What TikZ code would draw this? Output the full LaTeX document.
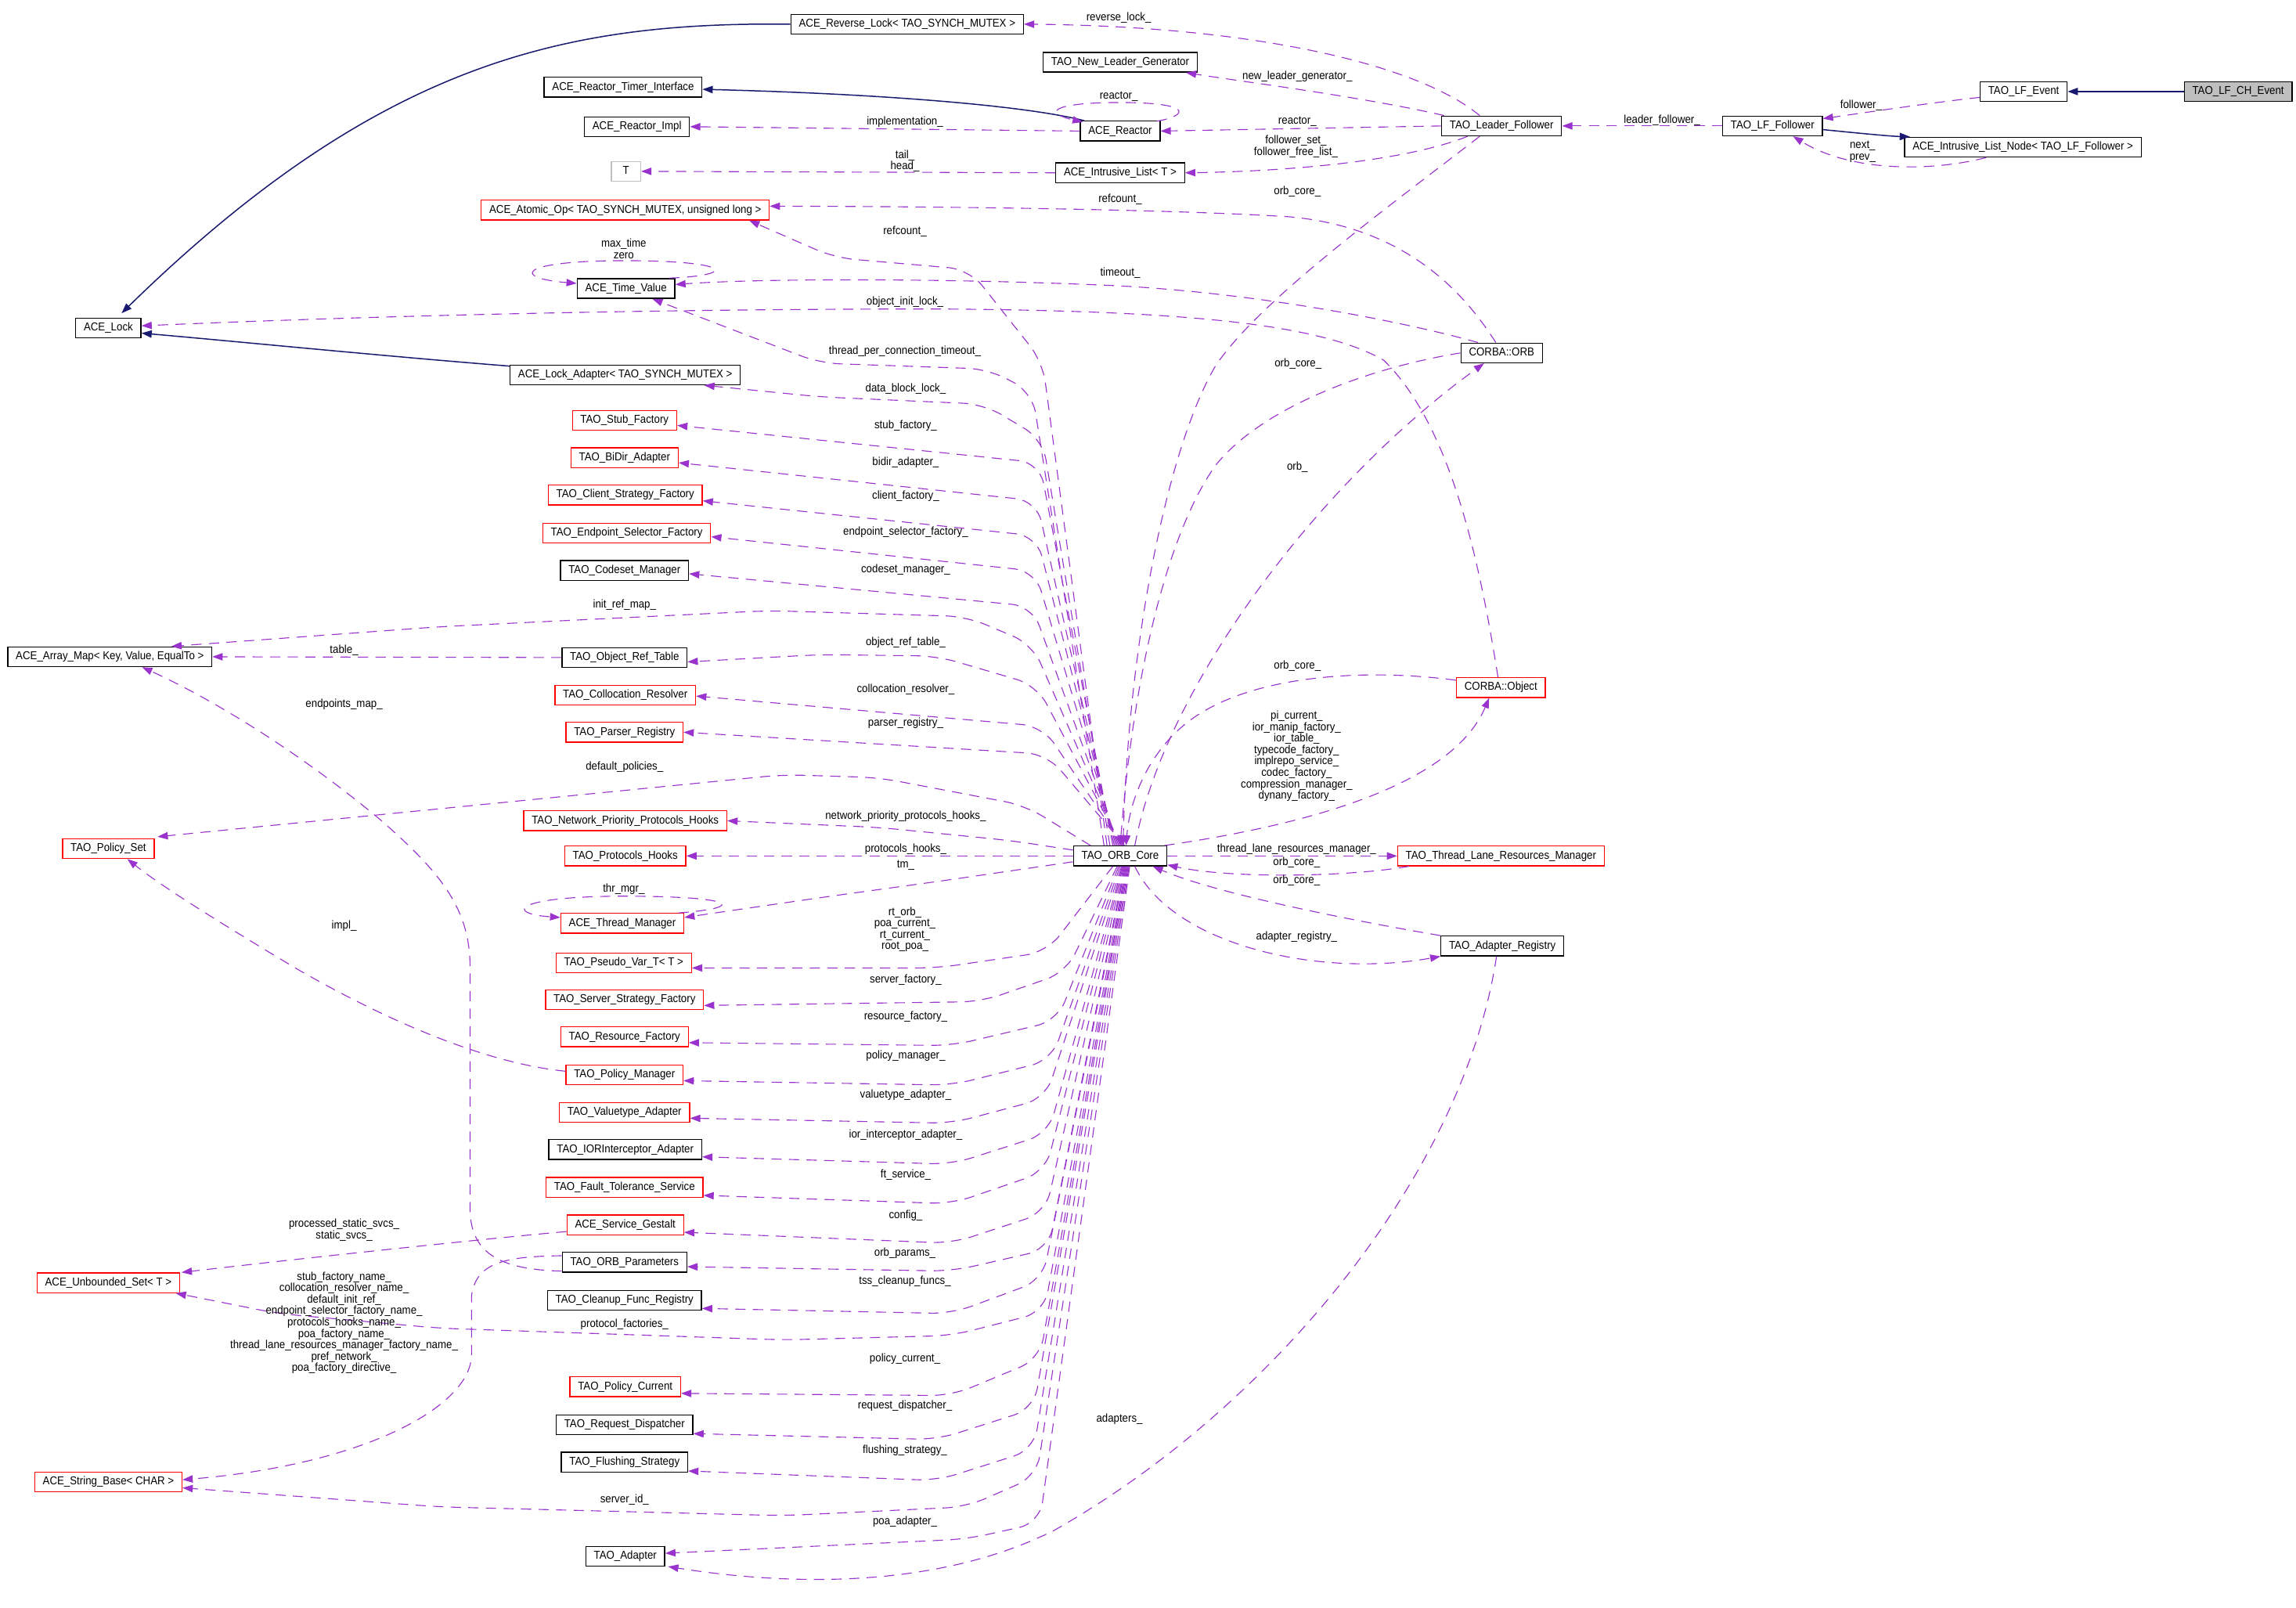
\documentclass[tikz,border=0pt]{standalone}
\usepackage{fontspec}
\setmainfont{Liberation Sans}[FakeStretch=0.91]
\usetikzlibrary{arrows.meta,calc}
\definecolor{edgepurple}{HTML}{9A32CD}
\definecolor{navyline}{HTML}{191970}
\definecolor{nodegray}{HTML}{BFBFBF}
\newcommand\graphfont{\fontsize{7.8}{7.8}\selectfont}
\tikzset{
  cbox/.style={draw=black, fill=white, line width=0.7pt, minimum height=13.5pt, inner xsep=5.5pt, inner ysep=0pt, text height=5.6pt, text depth=1.6pt, font=\graphfont},
  rbox/.style={cbox, draw=red},
  assoc/.style={draw=edgepurple, line width=0.6pt, dash pattern=on 7pt off 5pt, -{Triangle[length=7pt,width=5pt]}},
  fanline/.style={assoc, rounded corners=14pt},
  inhe/.style={draw=navyline, line width=0.8pt, -{Triangle[length=7pt,width=5pt]}},
  lbl/.style={font=\graphfont, inner sep=0pt, align=center},
}
\begin{document}
\begin{tikzpicture}[x=1pt,y=-1pt]
\useasboundingbox (0,0) rectangle (1568,1097.6);
\fill[white] (0,0) rectangle (1568,1097.6);

% ---------- nodes ----------
\node[cbox] (revlock) at (619.5,16.5) {ACE\_Reverse\_Lock< TAO\_SYNCH\_MUTEX >};
\node[cbox] (newleader) at (765,42.5) {TAO\_New\_Leader\_Generator};
\node[cbox] (timerif) at (425.5,59.5) {ACE\_Reactor\_Timer\_Interface};
\node[cbox] (reactorimpl) at (435,86.5) {ACE\_Reactor\_Impl};
\node[cbox] (reactor) at (765,89.5) {ACE\_Reactor};
\node[cbox] (leaderfollower) at (1025.5,86) {TAO\_Leader\_Follower};
\node[cbox] (lffollower) at (1210.5,86) {TAO\_LF\_Follower};
\node[cbox] (lfevent) at (1382,62.5) {TAO\_LF\_Event};
\node[cbox, fill=nodegray] (lfchevent) at (1528.5,62.5) {TAO\_LF\_CH\_Event};
\node[cbox] (listnode) at (1381.5,100.5) {ACE\_Intrusive\_List\_Node< TAO\_LF\_Follower >};
\node[cbox, draw=nodegray, minimum width=20pt] (tparam) at (427.5,117) {T};
\node[cbox] (intrusivelist) at (765,118) {ACE\_Intrusive\_List< T >};
\node[rbox] (atomic) at (427,143.5) {ACE\_Atomic\_Op< TAO\_SYNCH\_MUTEX, unsigned long >};
\node[cbox] (timevalue) at (427.5,197) {ACE\_Time\_Value};
\node[cbox] (acelock) at (74,224) {ACE\_Lock};
\node[cbox] (lockadapter) at (427,256) {ACE\_Lock\_Adapter< TAO\_SYNCH\_MUTEX >};
\node[cbox] (orb) at (1025.5,241) {CORBA::ORB};
\node[rbox] (stubfactory) at (426.5,287) {TAO\_Stub\_Factory};
\node[rbox] (bidir) at (426.5,312.5) {TAO\_BiDir\_Adapter};
\node[rbox] (clientstrat) at (427,338) {TAO\_Client\_Strategy\_Factory};
\node[rbox] (endpointsel) at (428,364) {TAO\_Endpoint\_Selector\_Factory};
\node[cbox] (codeset) at (426.5,389.5) {TAO\_Codeset\_Manager};
\node[cbox] (arraymap) at (75,448.5) {ACE\_Array\_Map< Key, Value, EqualTo >};
\node[cbox] (objreftable) at (426.5,449) {TAO\_Object\_Ref\_Table};
\node[rbox] (colloc) at (427,474.8) {TAO\_Collocation\_Resolver};
\node[rbox] (corbaobject) at (1025,469.5) {CORBA::Object};
\node[rbox] (parser) at (426.5,500) {TAO\_Parser\_Registry};
\node[rbox] (netprio) at (427,560.5) {TAO\_Network\_Priority\_Protocols\_Hooks};
\node[rbox] (policyset) at (74,579.5) {TAO\_Policy\_Set};
\node[rbox] (protohooks) at (427,584.5) {TAO\_Protocols\_Hooks};
\node[cbox] (orbcore) at (765,584.5) {TAO\_ORB\_Core};
\node[rbox] (tlrm) at (1025,584.5) {TAO\_Thread\_Lane\_Resources\_Manager};
\node[rbox] (thrmgr) at (425,630.5) {ACE\_Thread\_Manager};
\node[cbox] (adapterreg) at (1026,646) {TAO\_Adapter\_Registry};
\node[rbox] (pseudovar) at (426,657.5) {TAO\_Pseudo\_Var\_T< T >};
\node[rbox] (serverstrat) at (426.5,682.6) {TAO\_Server\_Strategy\_Factory};
\node[rbox] (resfactory) at (426.5,708) {TAO\_Resource\_Factory};
\node[rbox] (policymgr) at (426.5,734) {TAO\_Policy\_Manager};
\node[rbox] (valuetype) at (426.5,759.6) {TAO\_Valuetype\_Adapter};
\node[cbox] (iorinterceptor) at (427,785) {TAO\_IORInterceptor\_Adapter};
\node[rbox] (faulttol) at (426.5,810.8) {TAO\_Fault\_Tolerance\_Service};
\node[rbox] (servicegestalt) at (427,836.5) {ACE\_Service\_Gestalt};
\node[cbox] (orbparams) at (426.5,862) {TAO\_ORB\_Parameters};
\node[rbox] (unboundedset) at (74,876) {ACE\_Unbounded\_Set< T >};
\node[cbox] (cleanup) at (426.5,888) {TAO\_Cleanup\_Func\_Registry};
\node[rbox] (policycurrent) at (427,947) {TAO\_Policy\_Current};
\node[cbox] (requestdisp) at (426.5,973) {TAO\_Request\_Dispatcher};
\node[cbox] (flushing) at (426.5,998.5) {TAO\_Flushing\_Strategy};
\node[rbox] (stringbase) at (74,1012) {ACE\_String\_Base< CHAR >};
\node[cbox] (taoadapter) at (427,1062.7) {TAO\_Adapter};

% ---------- inheritance ----------
\draw[inhe] (revlock.west) .. controls (389,15) and (261,40) .. ($(acelock.north)+(9,-3)$);
\draw[inhe] ($(reactor.north west)+(3,0)$) .. controls (700,72) and (600,64) .. ($(timerif.east)+(0,1.5)$);
\draw[inhe] ($(lockadapter.west)+(0,-6)$) .. controls (260,243) and (160,233) .. ($(acelock.east)+(0,3.5)$);
\draw[inhe] (lfchevent.west) -- (lfevent.east);
\draw[inhe] ($(lffollower.east)+(0,2.5)$) .. controls (1270,91) and (1290,93) .. ($(listnode.north west)+(4,0)$);

% ---------- top right associations ----------
\draw[assoc] ($(leaderfollower.north)+(-15,0)$) .. controls (970,45) and (860,18) .. (revlock.east);
\draw[assoc] ($(leaderfollower.north west)+(2,0)$) .. controls (930,66) and (850,56) .. ($(newleader.south east)+(-8,0)$);
\draw[assoc] (leaderfollower.west) -- (reactor.east);
\draw[assoc] (790,82.75) .. controls (812,79) and (815,70) .. (765,70) .. controls (718,70) and (712,77) .. ($(reactor.north west)+(2,1)$);
\draw[assoc] (reactor.west) -- (reactorimpl.east);
\draw[assoc] ($(leaderfollower.south west)+(18,0)$) .. controls (960,110) and (880,117) .. (intrusivelist.east);
\draw[assoc] (intrusivelist.west) -- (tparam.east);
\draw[assoc] (lffollower.west) -- (leaderfollower.east);
\draw[assoc] ($(lfevent.west)+(0,4)$) .. controls (1320,70) and (1280,76) .. ($(lffollower.east)+(0,-5)$);
\draw[assoc] ($(listnode.south west)+(56,0)$) .. controls (1320,117) and (1265,118) .. ($(lffollower.south)+(14,0)$);

% ---------- CORBA::ORB / CORBA::Object ----------
\draw[assoc] ($(orb.north)+(-4,0)$) .. controls (1000,200) and (960,155) .. (880,148) .. controls (800,143) and (650,141) .. ($(atomic.east)+(0,-2.7)$);
\draw[assoc] ($(orb.north west)+(12,0)$) .. controls (960,220) and (860,200) .. (760,195) .. controls (650,190) and (520,190) .. ($(timevalue.east)+(0,-2.7)$);
\draw[assoc] ($(timevalue.north east)+(-4,0)$) .. controls (505,188) and (500,178) .. (427,178) .. controls (352,178) and (350,190) .. ($(timevalue.west)+(0,-3.5)$);
\draw[assoc] ($(corbaobject.north)+(-2,0)$) .. controls (1010,380) and (990,290) .. (945,246) .. controls (900,220) and (800,212) .. (640,211) .. controls (400,211) and (200,218) .. ($(acelock.east)+(0,-1.5)$);
\draw[assoc] ($(leaderfollower.south)+(-15,0)$) .. controls (950,140) and (860,205) .. (830,250) .. controls (795,310) and (770,450) .. ($(orbcore.north)+(2,0)$);
\draw[assoc] (orb.west) .. controls (930,252) and (860,280) .. (830,318) .. controls (800,360) and (775,450) .. ($(orbcore.north)+(0,0)$);
\draw[assoc] ($(orbcore.north)+(10,0)$) .. controls (795,470) and (900,330) .. ($(orb.south)+(-12,0)$);
\draw[assoc] ($(orbcore.north east)+(-2,0)$) .. controls (880,565) and (990,540) .. ($(corbaobject.south)+(-8,0)$);
\draw[assoc] ($(corbaobject.west)+(0,-5)$) .. controls (930,456) and (860,462) .. (820,487) .. controls (790,505) and (772,540) .. ($(orbcore.north)+(4,0)$);

% ---------- right of ORB core ----------
\draw[assoc] (orbcore.east) -- (tlrm.west);
\draw[assoc] ($(tlrm.south west)+(8,0)$) .. controls (920,599) and (840,600) .. ($(orbcore.south east)+(0,-1)$);
\draw[assoc] (adapterreg.north west) .. controls (920,628) and (830,610) .. ($(orbcore.south east)+(-10,0)$);
\draw[assoc] ($(orbcore.south)+(10,0)$) .. controls (800,645) and (900,668) .. (adapterreg.south west);
\draw[assoc] ($(adapterreg.south)+(-4,0)$) .. controls (1000,800) and (870,960) .. (720,1045) .. controls (640,1085) and (540,1083) .. ($(taoadapter.south east)+(2,0)$);

% ---------- fan upwards ----------
\draw[fanline] ($(orbcore.north)+(-9,0)$) -- (712,247) -- (662,184) -- (570,176) -- ($(atomic.south east)+(-14,0)$);
\draw[fanline] ($(orbcore.north)+(-11,0)$) -- (705,268) -- (675,252) -- (560,248) -- ($(timevalue.south)+(18,0)$);
\draw[fanline] ($(orbcore.north)+(-7,0)$) -- (712,300) -- (672,276) -- (560,271) -- ($(lockadapter.south east)+(-25,0)$);
\draw[fanline] ($(orbcore.north)+(-5,0)$) -- (710,316) -- ($(stubfactory.east)+(0,3.5)$);
\draw[fanline] ($(orbcore.north)+(-4,0)$) -- (708,342) -- ($(bidir.east)+(0,3.5)$);
\draw[fanline] ($(orbcore.north)+(-3,0)$) -- (708,366) -- ($(clientstrat.east)+(0,4)$);
\draw[fanline] ($(orbcore.north)+(-2,0)$) -- (707,390) -- ($(endpointsel.east)+(0,2.5)$);
\draw[fanline] ($(orbcore.north)+(-1,0)$) -- (705,414) -- ($(codeset.east)+(0,2.3)$);
\draw[fanline] ($(orbcore.north)+(0,0)$) -- (705,440) -- (660,421) -- (525,417) -- (300,428) -- ($(arraymap.north east)+(-28,0)$);
\draw[fanline] ($(orbcore.north)+(1,0)$) -- (708,468) -- (640,448) -- (560,447) -- ($(objreftable.east)+(0,3)$);
\draw[fanline] ($(orbcore.north)+(2,0)$) -- (712,496) -- ($(colloc.east)+(0,0.5)$);
\draw[fanline] ($(orbcore.north)+(3,0)$) -- (715,515) -- (parser.east);
\draw[fanline] ($(orbcore.north west)+(12,0)$) -- (700,550) -- (600,531) -- (535,529) -- ($(policyset.north east)+(2,-1)$);
\draw[fanline] ($(orbcore.west)+(0,-4)$) -- (690,574) -- (600,565) -- (netprio.east);
\draw[assoc] (orbcore.west) -- (protohooks.east);
\draw[fanline] ($(orbcore.west)+(0,4)$) -- (647,601) -- (560,613) -- ($(thrmgr.east)+(0,-4)$);
\draw[assoc] ($(thrmgr.north east)+(-4,0)$) .. controls (510,620) and (505,612) .. (426,612) .. controls (350,612) and (345,624) .. ($(thrmgr.west)+(0,-4)$);

% ---------- fan downwards ----------
\draw[fanline] ($(orbcore.south)+(-5,0)$) -- (715,650) -- (640,661) -- ($(pseudovar.east)+(0,3.5)$);
\draw[fanline] ($(orbcore.south)+(-2,0)$) -- (728,664) -- (670,684) -- ($(serverstrat.east)+(0,4)$);
\draw[fanline] ($(orbcore.south)+(-1,0)$) -- (722,697) -- (650,714) -- ($(resfactory.east)+(0,4)$);
\draw[fanline] ($(orbcore.south)+(0,0)$) -- (718,724) -- (650,741) -- ($(policymgr.east)+(0,4)$);
\draw[fanline] ($(orbcore.south)+(1,0)$) -- (714,750) -- (650,767) -- ($(valuetype.east)+(0,4)$);
\draw[fanline] ($(orbcore.south)+(1.5,0)$) -- (716,774) -- (650,795) -- ($(iorinterceptor.east)+(0,5)$);
\draw[fanline] ($(orbcore.south)+(2,0)$) -- (714,800) -- (650,822) -- ($(faulttol.east)+(0,5.5)$);
\draw[fanline] ($(orbcore.south)+(2.5,0)$) -- (714,828) -- (650,849) -- ($(servicegestalt.east)+(0,5)$);
\draw[fanline] ($(orbcore.south)+(3,0)$) -- (716,853) -- (650,868) -- ($(orbparams.east)+(0,3)$);
\draw[fanline] ($(orbcore.south)+(3.5,0)$) -- (712,874) -- (650,897) -- ($(cleanup.east)+(0,5.5)$);
\draw[fanline] ($(orbcore.south)+(4,0)$) -- (713,896) -- (650,912) -- (535,915) -- (300,907) -- (190,897) -- ($(unboundedset.south east)+(-3,0)$);
\draw[fanline] ($(orbcore.south)+(4.5,0)$) -- (710,928) -- (650,953) -- ($(policycurrent.east)+(0,4.5)$);
\draw[fanline] ($(orbcore.south)+(5,0)$) -- (706,962) -- (640,983) -- ($(requestdisp.east)+(0,6)$);
\draw[fanline] ($(orbcore.south)+(5.5,0)$) -- (706,990) -- (640,1011) -- ($(flushing.east)+(0,6)$);
\draw[fanline] ($(orbcore.south)+(6,0)$) -- (708,1008) -- (660,1029) -- (535,1035) -- (300,1029) -- ($(stringbase.east)+(0,4)$);
\draw[fanline] ($(orbcore.south)+(6.5,0)$) -- (710,1040) -- (660,1051) -- ($(taoadapter.east)+(0,-2)$);

% ---------- left side ----------
\draw[assoc] (objreftable.west) -- (arraymap.east);
\draw[assoc] ($(orbparams.west)+(0,6)$) .. controls (340,867) and (321,855) .. (321,825) -- (321,660) .. controls (321,620) and (300,595) .. (260,560) .. controls (200,510) and (140,475) .. ($(arraymap.south)+(22,0)$);
\draw[assoc] ($(orbparams.west)+(0,-4.5)$) .. controls (345,858) and (325,862) .. (322,885) -- (322,925) .. controls (322,960) and (250,1000) .. ($(stringbase.east)+(0,-1.5)$);
\draw[assoc] ($(servicegestalt.west)+(0,4.5)$) .. controls (330,846) and (200,860) .. ($(unboundedset.north east)+(1,0)$);
\draw[assoc] ($(policymgr.west)+(0,-2.5)$) .. controls (330,726) and (260,695) .. (200,660) .. controls (150,630) and (110,605) .. ($(policyset.south)+(13,0)$);

% ---------- labels ----------
\node[lbl] (l01) at (764,12) {reverse\_lock\_};
\node[lbl] (l02) at (886,52) {new\_leader\_generator\_};
\node[lbl] (l03) at (886,83) {reactor\_};
\node[lbl] (l04) at (764,66) {reactor\_};
\node[lbl] (l05) at (618,83) {implementation\_};
\node[lbl] (l06) at (885,100) {follower\_set\_\\follower\_free\_list\_};
\node[lbl] (l07) at (618,110) {tail\_\\head\_};
\node[lbl] (l08) at (1135,82) {leader\_follower\_};
\node[lbl] (l09) at (1271,72) {follower\_};
\node[lbl] (l10) at (1272,103.5) {next\_\\prev\_};
\node[lbl] (l11) at (886,131) {orb\_core\_};
\node[lbl] (l12) at (765,136) {refcount\_};
\node[lbl] (l13) at (618,158) {refcount\_};
\node[lbl] (l14) at (426,170) {max\_time\\zero};
\node[lbl] (l15) at (765,186.5) {timeout\_};
\node[lbl] (l16) at (618,206) {object\_init\_lock\_};
\node[lbl] (l17) at (618,240) {thread\_per\_connection\_timeout\_};
\node[lbl] (l18) at (886.5,248.5) {orb\_core\_};
\node[lbl] (l19) at (618.5,265.5) {data\_block\_lock\_};
\node[lbl] (l20) at (618.5,290.5) {stub\_factory\_};
\node[lbl] (l21) at (618.5,316) {bidir\_adapter\_};
\node[lbl] (l22) at (886,319) {orb\_};
\node[lbl] (l23) at (618.5,339) {client\_factory\_};
\node[lbl] (l24) at (618.5,363.5) {endpoint\_selector\_factory\_};
\node[lbl] (l25) at (618.5,389) {codeset\_manager\_};
\node[lbl] (l26) at (426.5,413) {init\_ref\_map\_};
\node[lbl] (l27) at (618.5,439) {object\_ref\_table\_};
\node[lbl] (l28) at (235,444) {table\_};
\node[lbl] (l29) at (886,455) {orb\_core\_};
\node[lbl] (l30) at (618.5,471) {collocation\_resolver\_};
\node[lbl] (l31) at (235,481) {endpoints\_map\_};
\node[lbl] (l32) at (885.5,516.3) {pi\_current\_\\ior\_manip\_factory\_\\ior\_table\_\\typecode\_factory\_\\implrepo\_service\_\\codec\_factory\_\\compression\_manager\_\\dynany\_factory\_};
\node[lbl] (l33) at (618.5,494) {parser\_registry\_};
\node[lbl] (l34) at (426.5,523.5) {default\_policies\_};
\node[lbl] (l35) at (618.5,557.5) {network\_priority\_protocols\_hooks\_};
\node[lbl] (l36) at (618.5,580) {protocols\_hooks\_};
\node[lbl] (l37) at (885.5,580) {thread\_lane\_resources\_manager\_};
\node[lbl] (l38) at (885.5,589) {orb\_core\_};
\node[lbl] (l39) at (618.5,591) {tm\_};
\node[lbl] (l40) at (885.5,601.5) {orb\_core\_};
\node[lbl] (l41) at (426,607) {thr\_mgr\_};
\node[lbl] (l42) at (618,634.7) {rt\_orb\_\\poa\_current\_\\rt\_current\_\\root\_poa\_};
\node[lbl] (l43) at (235,632.5) {impl\_};
\node[lbl] (l44) at (885.5,640) {adapter\_registry\_};
\node[lbl] (l45) at (618.5,669) {server\_factory\_};
\node[lbl] (l46) at (618.5,694.5) {resource\_factory\_};
\node[lbl] (l47) at (618.5,721) {policy\_manager\_};
\node[lbl] (l48) at (618.5,748) {valuetype\_adapter\_};
\node[lbl] (l49) at (618.5,775) {ior\_interceptor\_adapter\_};
\node[lbl] (l50) at (618.5,802.5) {ft\_service\_};
\node[lbl] (l51) at (618.5,830) {config\_};
\node[lbl] (l52) at (235,840) {processed\_static\_svcs\_\\static\_svcs\_};
\node[lbl] (l53) at (618,856) {orb\_params\_};
\node[lbl] (l54) at (235,903.3) {stub\_factory\_name\_\\collocation\_resolver\_name\_\\default\_init\_ref\_\\endpoint\_selector\_factory\_name\_\\protocols\_hooks\_name\_\\poa\_factory\_name\_\\thread\_lane\_resources\_manager\_factory\_name\_\\pref\_network\_\\poa\_factory\_directive\_};
\node[lbl] (l55) at (618,875) {tss\_cleanup\_funcs\_};
\node[lbl] (l56) at (426.5,904.3) {protocol\_factories\_};
\node[lbl] (l57) at (618,928) {policy\_current\_};
\node[lbl] (l58) at (618,960) {request\_dispatcher\_};
\node[lbl] (l59) at (764.5,969) {adapters\_};
\node[lbl] (l60) at (618,990.5) {flushing\_strategy\_};
\node[lbl] (l61) at (426.5,1024) {server\_id\_};
\node[lbl] (l62) at (618,1039) {poa\_adapter\_};
\end{tikzpicture}
\end{document}
